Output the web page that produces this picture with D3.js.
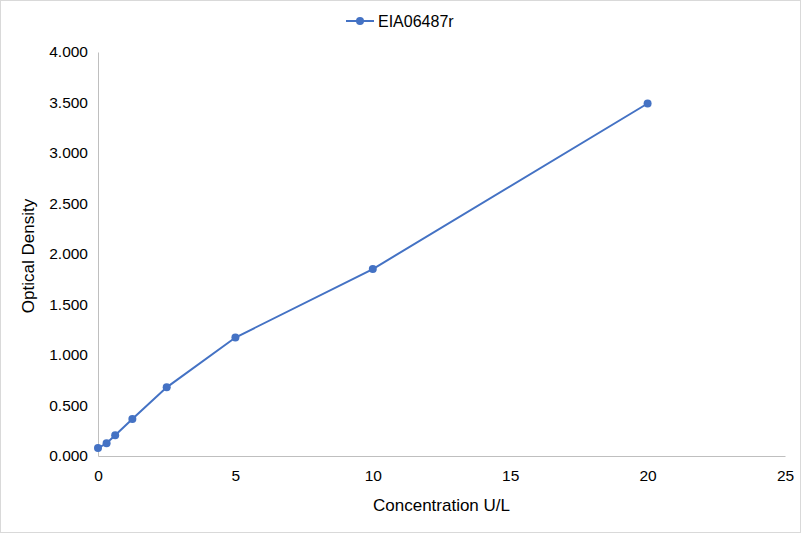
<!DOCTYPE html>
<html>
<head>
<meta charset="utf-8">
<script src="https://cdn.jsdelivr.net/npm/d3@7"></script>
<style>
  body { margin: 0; background: #fff; }
  svg { display: block; font-family: "Liberation Sans", Arial, sans-serif; }
</style>
</head>
<body>
<svg id="chart" width="801" height="533"></svg>
<script>
const concentration = [0, 0.3125, 0.625, 1.25, 2.5, 5, 10, 20];
const density = [0.079, 0.126, 0.205, 0.366, 0.68, 1.173, 1.851, 3.49];
const seriesName = "EIA06487r";
const xTicks = [0, 5, 10, 15, 20, 25];
const yTicks = [0, 0.5, 1, 1.5, 2, 2.5, 3, 3.5, 4];

const svg = d3.select("#chart"),
  margin = {top: 52, right: 16, bottom: 77, left: 98},
  width = 801 - margin.left - margin.right,
  height = 533 - margin.top - margin.bottom;

svg.append("rect")
  .attr("x", 0.5).attr("y", 0.5)
  .attr("width", 800).attr("height", 532)
  .attr("fill", "#fff").attr("stroke", "#d9d9d9");

const g = svg.append("g").attr("transform", "translate(" + margin.left + "," + margin.top + ")");

const x = d3.scaleLinear().domain([0, 25]).range([0, 687]);
const y = d3.scaleLinear().domain([0, 4]).range([height, 0]);
const color = "#4472c4";

// axes
const xAxis = g.append("g")
  .attr("transform", "translate(0," + height + ")")
  .call(d3.axisBottom(x).tickValues(xTicks).tickSize(0).tickPadding(14).tickFormat(d3.format("d")));
const yAxis = g.append("g")
  .call(d3.axisLeft(y).tickValues(yTicks).tickSize(0).tickPadding(10).tickFormat(d3.format(".3f")));

[xAxis, yAxis].forEach(a => {
  a.select(".domain").attr("stroke", "#bfbfbf");
  a.selectAll("text").attr("fill", "#000").style("font-size", "15.5px")
    .style("font-family", "'Liberation Sans', Arial, sans-serif");
});

// axis titles
svg.append("text")
  .attr("x", margin.left + x(12.5)).attr("y", 511)
  .attr("text-anchor", "middle")
  .style("font-size", "17px")
  .text("Concentration U/L");

svg.append("text")
  .attr("transform", "translate(34," + (margin.top + height / 2 + 2) + ") rotate(-90)")
  .attr("text-anchor", "middle")
  .style("font-size", "17px")
  .text("Optical Density");

// series
const data = concentration.map((c, i) => ({c: c, v: density[i]}));
const line = d3.line().x(d => x(d.c)).y(d => y(d.v));

g.append("path")
  .datum(data)
  .attr("fill", "none")
  .attr("stroke", color)
  .attr("stroke-width", 2)
  .attr("d", line);

g.selectAll(".pt")
  .data(data)
  .enter().append("circle")
  .attr("class", "pt")
  .attr("cx", d => x(d.c))
  .attr("cy", d => y(d.v))
  .attr("r", 4)
  .attr("fill", color);

// legend
const lg = svg.append("g").attr("transform", "translate(346,21)");
lg.append("line").attr("x1", 0).attr("x2", 28).attr("y1", 0).attr("y2", 0)
  .attr("stroke", color).attr("stroke-width", 2);
lg.append("circle").attr("cx", 14).attr("cy", 0).attr("r", 4).attr("fill", color);
lg.append("text").attr("x", 32).attr("y", 5.5)
  .style("font-size", "16px")
  .text(seriesName);
</script>
</body>
</html>
